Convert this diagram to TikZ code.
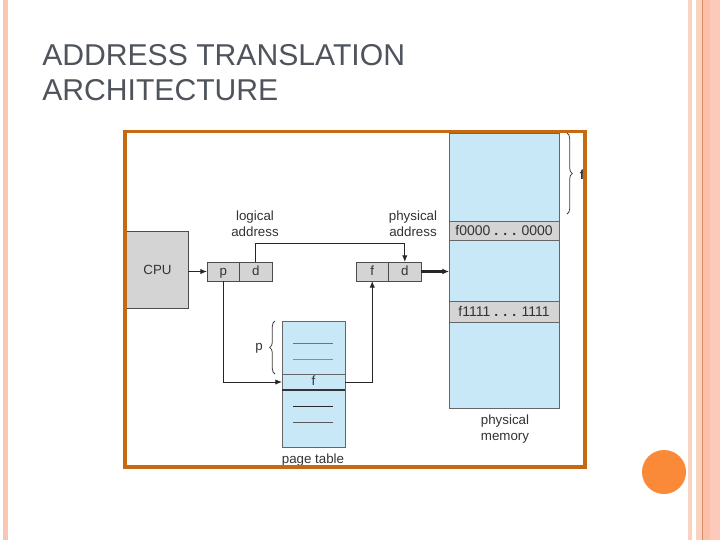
\documentclass[tikz,border=0pt]{standalone}
\usepackage{fontspec}
\setmainfont{Liberation Sans}
\usetikzlibrary{arrows.meta,decorations.pathreplacing,calc}
\definecolor{stripe}{HTML}{F8C6B2}
\definecolor{stripeL}{HTML}{FAD2C2}
\definecolor{stripeD}{HTML}{D98C64}
\definecolor{stripeM}{HTML}{FCC0A6}
\definecolor{stripeR}{HTML}{FDC9B9}
\definecolor{frameor}{HTML}{C66A12}
\definecolor{dot}{HTML}{FB8A38}
\definecolor{titlegray}{HTML}{4F545C}
\definecolor{lblue}{HTML}{C8E8F8}
\definecolor{boxgray}{HTML}{D4D4D4}
\definecolor{txt}{HTML}{333333}
\tikzset{
  every node/.style={font=\fontsize{10}{12}\selectfont, text=txt, inner sep=0pt},
  cell/.style={draw=black!70, line width=0.7pt, fill=boxgray, anchor=north west, outer sep=0pt, minimum width=24.4pt, minimum height=14.25pt, text height=7.2pt, text depth=1.6pt},
  blue/.style={draw=black!60, line width=0.6pt, fill=lblue, anchor=north west, outer sep=0pt, minimum width=47.25pt},
  mem/.style={draw=black!60, line width=0.6pt, fill=lblue, anchor=north west, outer sep=0pt, minimum width=82.5pt},
  memrow/.style={mem, fill=boxgray, font=\fontsize{10.5}{12}\selectfont},
  conn/.style={line width=0.7pt, black!85},
  tip/.style={-{Latex[length=5pt,width=4pt]}},
  lbl/.style={align=center, font=\fontsize{10}{12}\selectfont},
  tick/.style={line width=0.6pt}
}
\begin{document}
\begin{tikzpicture}[x=0.75pt,y=-0.75pt]
\useasboundingbox (0,0) rectangle (720,540);
\fill[white] (0,0) rectangle (720,540);
% decorative stripes
\fill[stripe] (3,0) rectangle (8,540);
\fill[stripeL] (688,0) rectangle (692,540);
\fill[stripeL] (696,0) rectangle (702,540);
\fill[stripeD] (702,0) rectangle (703.3,540);
\fill[stripeM] (703.3,0) rectangle (710,540);
\fill[stripeR] (710,0) rectangle (720,540);
\fill[dot] (664,472) circle (22);
% title
\node[anchor=north west, align=left, text=titlegray, font=\fontsize{22.6}{26.5}\selectfont] (title) at (42,44) {ADDRESS TRANSLATION\\ARCHITECTURE};
% CPU
\node[fill=boxgray, anchor=north west, outer sep=0pt, minimum width=61*0.75pt, minimum height=77*0.75pt] (cpu) at (127,231) {CPU};
\draw[line width=0.7pt, black!70] (cpu.north west) -- (cpu.north east) -- (cpu.south east) -- (cpu.south west);
% logical address cells
\node[cell] (p) at (207,262) {p};
\node[cell] (d1) at (p.north east) {d};
\node[cell] (f) at (356,262) {f};
\node[cell] (d2) at (f.north east) {d};
% page table
\node[blue, minimum height=53*0.75pt] (ptTop) at (282,321) {};
\node[blue, minimum height=16*0.75pt, text height=7.2pt, text depth=1.6pt] (ptF) at (ptTop.south west) {f};
\node[blue, minimum height=57*0.75pt] (ptBot) at (ptF.south west) {};
\draw[line width=1.1pt, black!80] (ptF.south west) -- (ptF.south east);
\draw[tick, black!55] (293,343) -- (333,343);
\draw[tick, black!45] (293,359) -- (333,359);
\draw[tick, black!85] (293,406) -- (333,406);
\draw[tick, black!65] (293,422) -- (333,422);
% physical memory
\node[mem, minimum height=88*0.75pt] (m1) at (449,133) {};
\node[memrow, minimum height=19*0.75pt] (m2) at (m1.south west) {f0000 \textbf{. . .} 0000};
\node[mem, minimum height=61*0.75pt] (m3) at (m2.south west) {};
\node[memrow, minimum height=21*0.75pt] (m4) at (m3.south west) {f1111 \textbf{. . .} 1111};
\node[mem, minimum height=86*0.75pt] (m5) at (m4.south west) {};
% labels
\node[lbl] (la) at (255,224) {logical\\address};
\node[lbl] (pa) at (413,224) {physical\\address};
\node[lbl] (ptl) at (313,460) {page table};
\node[lbl] (pm) at (505,429) {physical\\memory};
% connectors
\draw[conn, tip] (cpu.east |- p.west) -- (p.west);
\draw[conn, tip] (d1.north) -- ++(0,-19) -| (d2.north);
\draw[line width=1.6pt, black!85, -{Latex[length=5pt,width=4.5pt]}] (d2.east) -- (d2.east -| m3.west);
\draw[conn, tip] (p.south) |- (ptF.west);
\draw[conn, tip] (ptF.east) -| (f.south);
% braces
\draw[line width=0.6pt, black!75, decorate, decoration={brace, amplitude=4pt}] ($(ptTop.south west)+(-7,0)$) -- ($(ptTop.north west)+(-7,0)$);
\node (pb) at (259,348) {p};
\draw[line width=0.6pt, black!75, decorate, decoration={brace, amplitude=4pt}] ($(m1.north east)+(8,0)$) -- ($(m1.south east)+(8,-7)$);
\begin{scope}
\clip (560,150) rectangle (583,200);
\node[anchor=west, font=\fontsize{10}{12}\selectfont\bfseries] (fb) at (579.5,175) {f};
\end{scope}
% orange frame
\draw[frameor, line width=2.8pt] (125,131.5) rectangle (584.8,467);
\end{tikzpicture}
\end{document}
